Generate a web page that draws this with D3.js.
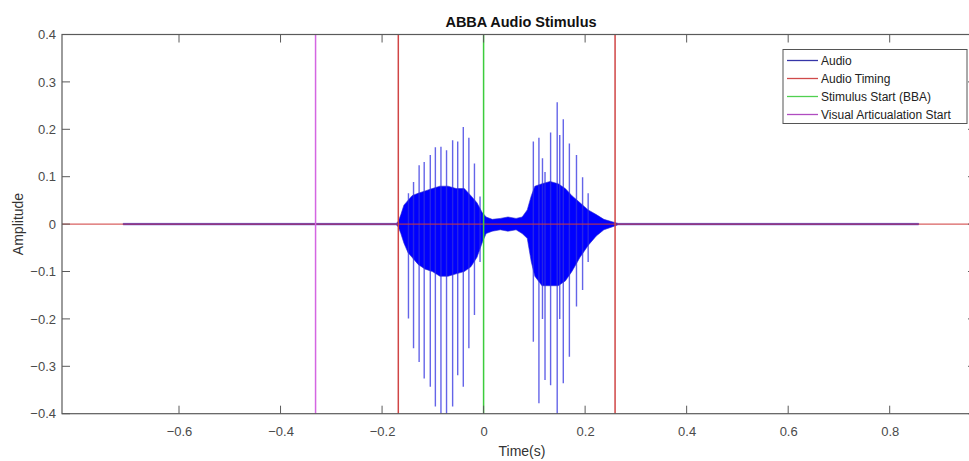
<!DOCTYPE html>
<html>
<head>
<meta charset="utf-8">
<script src="https://cdn.jsdelivr.net/npm/d3@7"></script>
<style>
body{margin:0;background:#fff;}
svg{font-family:"Liberation Sans",Arial,sans-serif;}
</style>
</head>
<body>
<div id="main_div"></div>
<script>
// tick values
let xTicks=[-0.6,-0.4,-0.2,0,0.2,0.4,0.6,0.8];
let yTicks=[-0.4,-0.3,-0.2,-0.1,0,0.1,0.2,0.3,0.4];

// audio envelope (dense part)
let envT =[-0.71,-0.172,-0.168,-0.163,-0.157,-0.149,-0.141,-0.129,-0.115,-0.101,-0.086,-0.070,-0.054,-0.038,-0.025,-0.013,-0.003,0.005,0.017,0.033,0.048,0.064,0.076,0.086,0.094,0.101,0.115,0.131,0.147,0.161,0.174,0.190,0.206,0.222,0.237,0.253,0.265,0.857];
let envHi=[0.0015,0.0015,0.006,0.02,0.04,0.05,0.06,0.065,0.07,0.075,0.08,0.08,0.075,0.075,0.06,0.045,0.025,0.015,0.01,0.012,0.015,0.012,0.015,0.03,0.06,0.08,0.085,0.09,0.085,0.075,0.06,0.045,0.03,0.02,0.01,0.005,0.0015,0.0015];
let envLo=[-0.0015,-0.0015,-0.006,-0.02,-0.04,-0.06,-0.07,-0.085,-0.095,-0.10,-0.11,-0.11,-0.105,-0.10,-0.09,-0.07,-0.04,-0.02,-0.015,-0.012,-0.015,-0.012,-0.02,-0.03,-0.08,-0.11,-0.13,-0.13,-0.13,-0.12,-0.10,-0.07,-0.045,-0.025,-0.012,-0.006,-0.0015,-0.0015];

// glottal pulses (spikes)
let pulseT =[-0.148,-0.138,-0.127,-0.117,-0.105,-0.095,-0.084,-0.073,-0.061,-0.051,-0.040,-0.029,-0.018,-0.007,0.098,0.109,0.116,0.121,0.132,0.145,0.150,0.157,0.169,0.183,0.195,0.206];
let pulseHi=[0.065,0.089,0.124,0.131,0.146,0.162,0.163,0.156,0.177,0.174,0.205,0.182,0.128,0.058,0.174,0.182,0.139,0.110,0.193,0.257,0.188,0.221,0.170,0.146,0.099,0.065];
let pulseLo=[-0.199,-0.262,-0.291,-0.326,-0.343,-0.385,-0.42,-0.42,-0.385,-0.319,-0.343,-0.262,-0.192,-0.08,-0.248,-0.378,-0.20,-0.329,-0.340,-0.42,-0.20,-0.336,-0.280,-0.174,-0.139,-0.08];

// marker lines
let timingT=[-0.168,0.259];
let stimulusT=[0];
let visualT=[-0.331];

let legendNames=["Audio","Audio Timing","Stimulus Start (BBA)","Visual Articualation Start"];
let legendColors=["#3535a8","#d04a4a","#50d050","#b04cc0"];

let W=969,H=461;
let mLeft=62,mRight=976,mTop=34.5,mBottom=413.7;

let xScale=d3.scaleLinear().domain([-0.8305,0.970]).range([mLeft,mRight]);
let yScale=d3.scaleLinear().domain([-0.4,0.4]).range([mBottom,mTop]);

let svg=d3.select("#main_div").append("svg")
    .attr("width",W).attr("height",H).attr("id","main_svg");

svg.append("defs").append("clipPath").attr("id","clip")
    .append("rect").attr("x",mLeft).attr("y",mTop)
    .attr("width",mRight-mLeft).attr("height",mBottom-mTop);

let plot=svg.append("g").attr("clip-path","url(#clip)");

/** dense audio body */
let env=envT.map((t,i)=>({t:t,hi:envHi[i],lo:envLo[i]}));
plot.append("path")
    .datum(env)
    .attr("d",d3.area().x(d=>xScale(d.t)).y0(d=>yScale(d.lo)).y1(d=>yScale(d.hi)))
    .attr("fill","#0000ff")
    .attr("stroke","#2a2ad0")
    .attr("stroke-width",0.6);

/** pulses */
let pulses=pulseT.map((t,i)=>({t:t,hi:pulseHi[i],lo:pulseLo[i]}));
plot.selectAll(".pulse")
    .data(pulses)
    .enter().append("line")
    .attr("class","pulse")
    .attr("x1",d=>xScale(d.t)).attr("x2",d=>xScale(d.t))
    .attr("y1",d=>yScale(d.lo)).attr("y2",d=>yScale(d.hi))
    .attr("stroke","#3030e0")
    .attr("stroke-opacity",0.75)
    .attr("stroke-width",1.4);

/** timing lines */
plot.append("line")
    .attr("x1",mLeft).attr("x2",mRight)
    .attr("y1",yScale(0)).attr("y2",yScale(0))
    .attr("stroke","#d03a3a").attr("stroke-opacity",0.8).attr("stroke-width",1.3);

function vlines(arr,color){
    plot.selectAll(null).data(arr).enter().append("line")
        .attr("x1",d=>xScale(d)).attr("x2",d=>xScale(d))
        .attr("y1",mTop).attr("y2",mBottom)
        .attr("stroke",color).attr("stroke-width",1.5);
}
vlines(timingT,"#d04545");
vlines(stimulusT,"#3ccc3c");
vlines(visualT,"#d466e2");

/** axes */
let axisColor="#5a5a5a";
let tl=8;
let xAxis=d3.axisBottom(xScale).tickValues(xTicks).tickSize(0).tickPadding(0)
    .tickFormat(d=>d===0?"0":d3.format(".1f")(d));
let gx=svg.append("g").attr("transform","translate(0,"+mBottom+")").call(xAxis);
gx.select(".domain").remove();
gx.selectAll("text").attr("dy",null).attr("y",22).attr("fill","#4a4a4a").style("font-size","13px");

let yAxis=d3.axisLeft(yScale).tickValues(yTicks).tickSize(0).tickPadding(0)
    .tickFormat(d=>Math.abs(d)<1e-9?"0":d3.format(".1f")(d));
let gy=svg.append("g").attr("transform","translate("+mLeft+",0)").call(yAxis);
gy.select(".domain").remove();
gy.selectAll("text").attr("x",-6).attr("fill","#4a4a4a").style("font-size","13px");

// tick marks inside on all four sides
let ticks=svg.append("g").attr("stroke",axisColor).attr("stroke-width",1);
xTicks.forEach(v=>{
    ticks.append("line").attr("x1",xScale(v)).attr("x2",xScale(v)).attr("y1",mBottom).attr("y2",mBottom-tl);
    ticks.append("line").attr("x1",xScale(v)).attr("x2",xScale(v)).attr("y1",mTop).attr("y2",mTop+tl);
});
yTicks.forEach(v=>{
    ticks.append("line").attr("x1",mLeft).attr("x2",mLeft+tl).attr("y1",yScale(v)).attr("y2",yScale(v));
    ticks.append("line").attr("x1",mRight).attr("x2",mRight-tl).attr("y1",yScale(v)).attr("y2",yScale(v));
});
svg.append("rect").attr("x",mLeft).attr("y",mTop)
    .attr("width",mRight-mLeft).attr("height",mBottom-mTop)
    .attr("fill","none").attr("stroke",axisColor).attr("stroke-width",1.2);

/** labels */
svg.append("text").text("ABBA Audio Stimulus")
    .attr("x",521).attr("y",27).attr("text-anchor","middle")
    .style("font-weight","bold").style("font-size","14.5px").attr("fill","#111");
svg.append("text").text("Time(s)")
    .attr("x",522).attr("y",456).attr("text-anchor","middle")
    .style("font-size","14px").attr("fill","#333");
svg.append("text").text("Amplitude")
    .attr("transform","translate(23,224) rotate(-90)").attr("text-anchor","middle")
    .style("font-size","14px").attr("fill","#333");

/** legend */
let lg=svg.append("g").attr("transform","translate(783,49.5)");
lg.append("rect").attr("width",184).attr("height",74)
    .attr("fill","#fff").attr("stroke","#555").attr("stroke-width",1);
legendNames.forEach((n,i)=>{
    let y=11+i*18;
    lg.append("line").attr("x1",4).attr("x2",35).attr("y1",y).attr("y2",y)
        .attr("stroke",legendColors[i]).attr("stroke-width",1.3);
    lg.append("text").text(n).attr("x",38).attr("y",y+4.2)
        .style("font-size","12px").attr("fill","#222");
});
</script>
</body>
</html>
